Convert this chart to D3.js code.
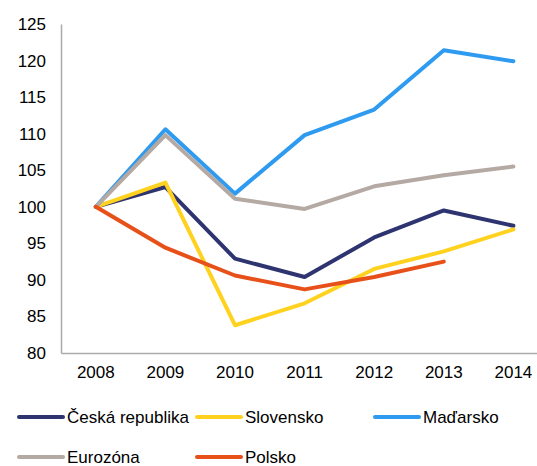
<!DOCTYPE html>
<html>
<head>
<meta charset="utf-8">
<script src="https://cdn.jsdelivr.net/npm/d3@7"></script>
<style>
  body { margin: 0; background: #fff; }
  svg { font-family: "Liberation Sans", Arial, sans-serif; }
</style>
</head>
<body>
<div id="chart"></div>
<script>
// Data
var years = ["2008", "2009", "2010", "2011", "2012", "2013", "2014"];
var seriesNames = ["Česká republika", "Slovensko", "Maďarsko", "Eurozóna", "Polsko"];
var ceska = [100, 102.7, 92.9, 90.4, 95.8, 99.5, 97.4];
var slovensko = [100, 103.3, 83.8, 86.8, 91.5, 93.9, 96.9];
var madarsko = [100, 110.6, 101.8, 109.8, 113.3, 121.4, 119.9];
var eurozona = [100, 109.8, 101.1, 99.7, 102.8, 104.3, 105.5];
var polsko = [100, 94.4, 90.6, 88.7, 90.4, 92.5];
var yTicks = [80, 85, 90, 95, 100, 105, 110, 115, 120, 125];
var colors = ["#2e3470", "#ffd21f", "#2e9bf0", "#b5a9a3", "#e8501a"];

var allSeries = [ceska, slovensko, madarsko, eurozona, polsko];

var width = 537, height = 466;
var plotLeft = 61, plotTop = 24, plotBottom = 353;
var step = 69.6;

var svg = d3.select("#chart")
    .append("svg")
    .attr("width", width)
    .attr("height", height);

var x = d3.scaleBand()
    .domain(years)
    .range([plotLeft, plotLeft + step * years.length]);

var y = d3.scaleLinear()
    .domain([80, 125])
    .range([plotBottom, plotTop]);

// y axis labels (no tick marks)
var yAxis = svg.append("g")
    .attr("transform", "translate(" + plotLeft + ",0)")
    .call(d3.axisLeft(y).tickValues(yTicks).tickSize(0).tickPadding(15));
yAxis.select(".domain").attr("stroke", "#aaaaaa").attr("stroke-width", 1.5);
yAxis.selectAll("text")
    .style("font-size", "17px")
    .style("font-family", "Liberation Sans, Arial, sans-serif")
    .attr("fill", "#000");

// x axis labels
var xAxis = svg.append("g")
    .attr("transform", "translate(0," + plotBottom + ")")
    .call(d3.axisBottom(x).tickSize(0).tickPadding(13));
xAxis.select(".domain").attr("stroke", "#aaaaaa").attr("stroke-width", 1.5);
xAxis.selectAll("text")
    .style("font-size", "17px")
    .style("font-family", "Liberation Sans, Arial, sans-serif")
    .attr("fill", "#000");

// lines
var line = d3.line()
    .x(function(d, i) { return x(years[i]) + x.bandwidth() / 2; })
    .y(function(d) { return y(d); });

for (let i = 0; i < allSeries.length; i++) {
    svg.append("path")
        .datum(allSeries[i])
        .attr("d", line)
        .attr("fill", "none")
        .attr("stroke", colors[i])
        .attr("stroke-width", 4)
        .attr("stroke-linejoin", "round")
        .attr("stroke-linecap", "round");
}

// legend
var legCols = 3, colW = 178, rowH = 40;
for (let i = 0; i < seriesNames.length; i++) {
    let lx = 19 + (i % legCols) * colW;
    let ly = 417 + Math.floor(i / legCols) * rowH;
    let g = svg.append("g").attr("transform", "translate(" + lx + "," + ly + ")");
    g.append("line")
        .attr("x1", 0).attr("x2", 44)
        .attr("y1", 0).attr("y2", 0)
        .attr("stroke", colors[i])
        .attr("stroke-width", 4)
        .attr("stroke-linecap", "round");
    g.append("text")
        .attr("x", 48)
        .attr("y", 0)
        .attr("dy", "0.35em")
        .text(seriesNames[i])
        .style("font-size", "17px")
        .style("fill", "#000");
}
</script>
</body>
</html>
